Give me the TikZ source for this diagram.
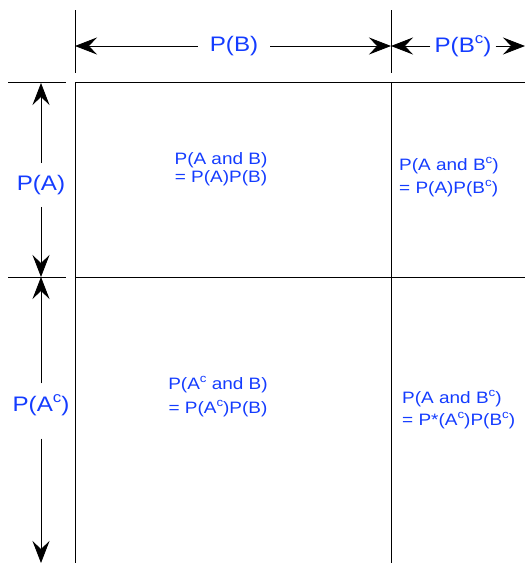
\documentclass[tikz,border=0pt]{standalone}
\usepackage{fontspec}
\setmainfont{Liberation Sans}[FakeStretch=1.15]
\usetikzlibrary{arrows.meta}
\definecolor{plabel}{RGB}{20,60,255}
\newcommand{\csup}{\raisebox{0.42em}{\scalebox{0.7}{c}}}

\begin{document}
\begin{tikzpicture}[x=1pt,y=-1pt,
    frame/.style={line width=0.8pt},
    measure/.style={line width=0.8pt,-{Stealth[length=22pt,width=17pt,inset=8pt]}},
    axislabel/.style={text=plabel,font=\fontsize{21}{24}\selectfont,inner sep=0pt},
    cell/.style={text=plabel,font=\fontsize{16.5}{19}\selectfont,inner sep=0pt}]
        \useasboundingbox (0,0) rectangle (525,563);
        % grid
        \draw[frame] (75,10) -- (75,73);
        \draw[frame] (391,10) -- (391,73);
        \draw[frame] (8,82) -- (66,82);
        \draw[frame] (8,277) -- (66,277);
        \draw[frame] (75,563) -- (75,82) -- (525,82);
        \draw[frame] (75,277) -- (525,277);
        \draw[frame] (391,82) -- (391,563);
        % measures along the top
        \coordinate (b0) at (75,46);
        \coordinate (b1) at (391,46);
        \coordinate (b2) at (525,46);
        \node[axislabel,inner xsep=12pt] (pb) at (234,46) {P(B)};
        \node[axislabel,inner xsep=4pt] (pbc) at (463,46) {P(B\csup)};
        \draw[measure] (pb) -- (b0);
        \draw[measure] (pb) -- (b1);
        \draw[measure] (pbc) -- (b1);
        \draw[measure] (pbc) -- (b2);
        % measures down the left
        \coordinate (a0) at (41,83);
        \coordinate (a1) at (41,277);
        \coordinate (a2) at (41,563);
        \node[axislabel,inner ysep=12pt] (pa) at (41,185) {P(A)};
        \node[axislabel,inner ysep=13pt] (pac) at (41,405) {P(A\csup)};
        \draw[measure] (pa) -- (a0);
        \draw[measure] (pa) -- (a1);
        \draw[measure] (pac.north) ++(0,2) -- (a1);
        \draw[measure] (pac.south) ++(0,10) -- (a2);
        % cells
        \node[cell,align=center] (ab) at (221,169) {P(A and B)\\[-1pt]= P(A)P(B)};
        \node[cell,align=left,anchor=west] (abc) at (399,177) {P(A and B\csup)\\[4pt]= P(A)P(B\csup)};
        \node[cell,align=center] (acb) at (218,397) {P(A\csup{} and B)\\[5pt]= P(A\csup)P(B)};
        \node[cell,align=left,anchor=west] (acbc) at (402,410) {P(A and B\csup)\\[3pt]= P*(A\csup)P(B\csup)};
\end{tikzpicture}
\end{document}
